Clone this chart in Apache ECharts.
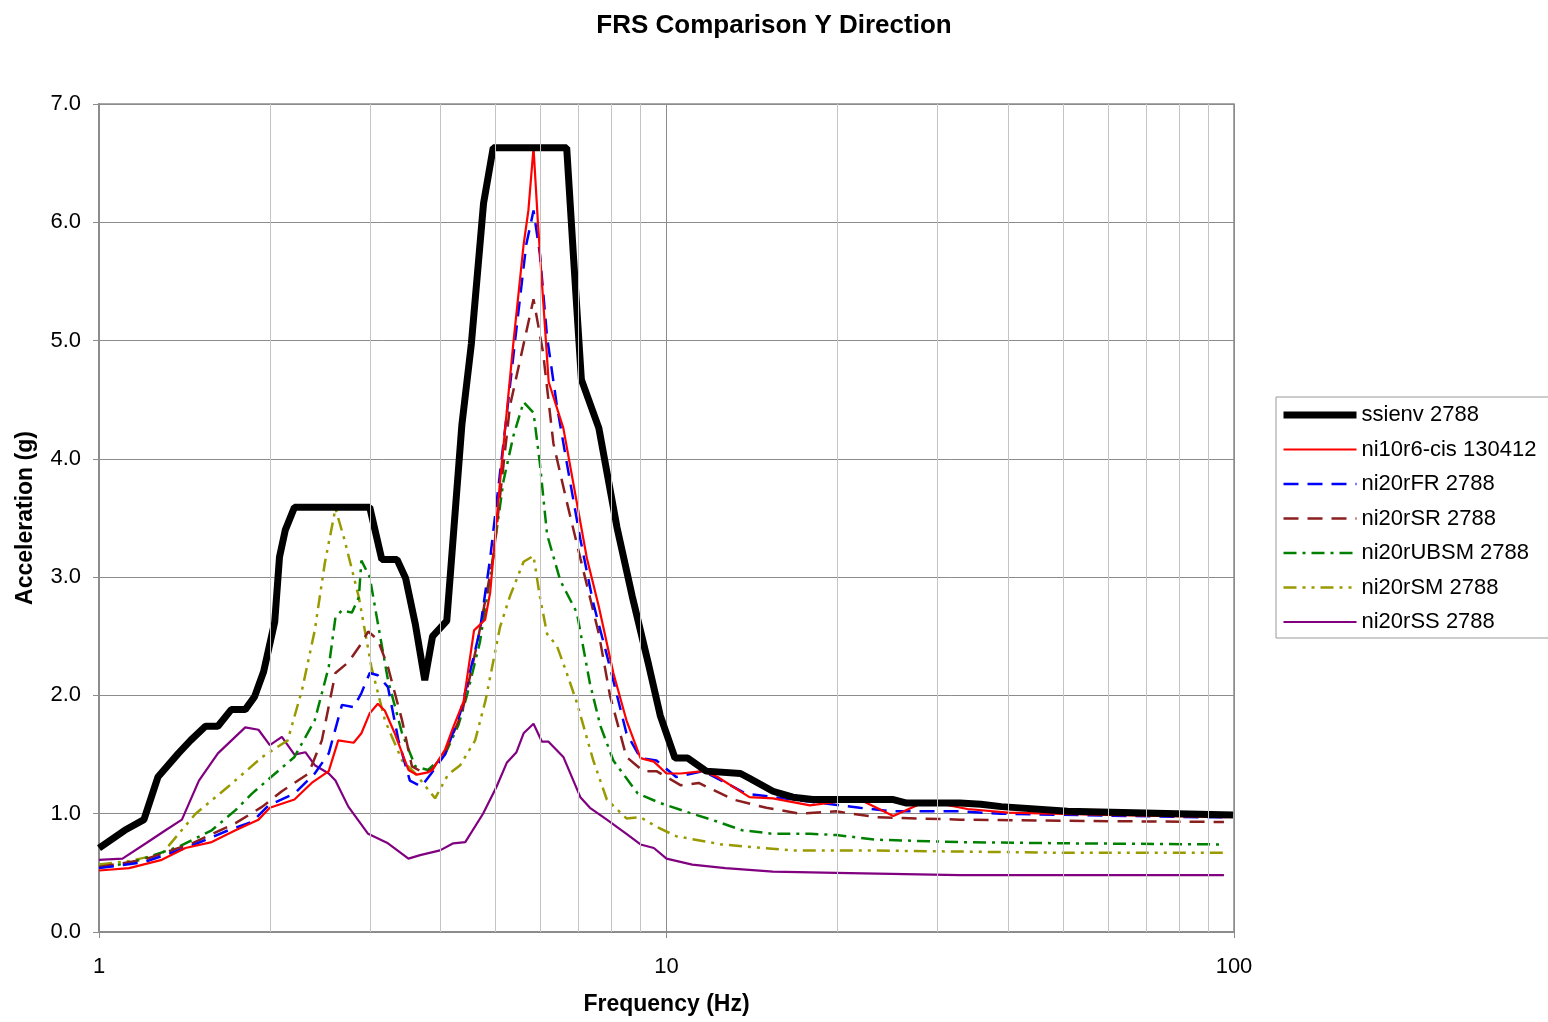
<!DOCTYPE html>
<html lang="en">
<head>
    <meta charset="UTF-8">
    <title>FRS Comparison Y Direction</title>
    <script type="text/javascript" src="https://cdn.jsdelivr.net/npm/echarts@6/dist/echarts.min.js"></script>
</head>
<body style="height: 1022px; margin: 0; width: 1548px">
<div id="container" style="height: 100%; width: 100%"></div>
<script type="text/javascript">
    // frequencies (Hz) and accelerations (g), one pair of arrays per curve
    var ssienvF = [1.0, 1.11, 1.20, 1.27, 1.38, 1.45, 1.54, 1.62, 1.71, 1.81, 1.88, 1.95, 2.04, 2.08, 2.13, 2.21, 3.0, 3.15, 3.35, 3.47, 3.61, 3.75, 3.87, 4.1, 4.36, 4.53, 4.76, 4.95, 6.67, 6.85, 7.08, 7.6, 8.18, 8.7, 9.3, 9.75, 10.35, 10.9, 11.75, 13.5, 14.0, 15.4, 16.7, 18.1, 19.9, 25.1, 26.5, 32.9, 35.8, 38.9, 50.9, 99.6];
    var ssienvA = [0.71, 0.86, 0.95, 1.31, 1.51, 1.62, 1.74, 1.74, 1.88, 1.88, 1.99, 2.20, 2.62, 3.17, 3.40, 3.59, 3.59, 3.15, 3.15, 2.99, 2.60, 2.13, 2.50, 2.63, 4.29, 4.97, 6.16, 6.63, 6.63, 5.74, 4.67, 4.26, 3.42, 2.84, 2.26, 1.83, 1.47, 1.47, 1.36, 1.34, 1.30, 1.19, 1.14, 1.12, 1.12, 1.12, 1.09, 1.09, 1.08, 1.06, 1.02, 0.99];

    var cisF = [1.0, 1.13, 1.29, 1.42, 1.58, 1.74, 1.91, 2.0, 2.21, 2.37, 2.54, 2.64, 2.81, 2.9, 3.0, 3.1, 3.19, 3.32, 3.51, 3.63, 3.8, 3.87, 4.07, 4.2, 4.39, 4.58, 4.79, 4.89, 5.09, 5.37, 5.6, 5.71, 5.83, 5.94, 6.2, 6.58, 7.24, 7.6, 8.06, 8.5, 9.0, 9.5, 10.0, 10.6, 11.6, 12.3, 14.0, 15.4, 17.9, 19.9, 21.9, 25.1, 27.9, 30.7, 33.9, 40, 60, 97];
    var cisA = [0.52, 0.54, 0.61, 0.71, 0.76, 0.86, 0.95, 1.05, 1.12, 1.26, 1.36, 1.62, 1.60, 1.68, 1.85, 1.93, 1.87, 1.68, 1.37, 1.33, 1.35, 1.37, 1.54, 1.72, 1.95, 2.55, 2.64, 2.87, 3.81, 4.97, 5.81, 6.10, 6.63, 5.97, 4.65, 4.26, 3.16, 2.75, 2.19, 1.79, 1.47, 1.44, 1.34, 1.34, 1.36, 1.31, 1.14, 1.13, 1.07, 1.10, 1.12, 0.98, 1.08, 1.08, 1.04, 1.01, 0.99, 0.97];

    var frF = [1.0, 1.2, 1.44, 1.69, 1.86, 1.99, 2.21, 2.40, 2.54, 2.68, 2.81, 2.90, 3.0, 3.10, 3.23, 3.37, 3.53, 3.70, 3.85, 4.07, 4.33, 4.69, 4.89, 5.16, 5.44, 5.66, 5.83, 5.98, 6.16, 6.41, 6.67, 7.05, 7.43, 7.95, 8.5, 9.0, 9.6, 10.4, 11.6, 12.5, 13.8, 16.7, 18.1, 21.9, 25.1, 32.9, 38.9, 88, 96];
    var frA = [0.54, 0.59, 0.72, 0.86, 0.93, 1.07, 1.17, 1.34, 1.51, 1.92, 1.90, 2.02, 2.19, 2.17, 2.07, 1.62, 1.28, 1.23, 1.34, 1.50, 1.85, 2.55, 3.16, 4.13, 5.10, 5.81, 6.10, 5.74, 5.03, 4.45, 3.97, 3.32, 2.78, 2.24, 1.68, 1.47, 1.45, 1.31, 1.36, 1.28, 1.17, 1.12, 1.10, 1.05, 1.02, 1.02, 1.00, 0.97, 0.97];

    var srF = [1.0, 1.2, 1.46, 1.74, 1.94, 2.10, 2.34, 2.47, 2.61, 2.75, 2.90, 2.98, 3.10, 3.23, 3.42, 3.56, 3.75, 3.87, 4.1, 4.36, 4.63, 4.95, 5.3, 5.6, 5.83, 6.06, 6.32, 6.67, 7.05, 7.6, 7.95, 8.5, 9.1, 9.6, 10.6, 11.4, 13.1, 15.0, 17.2, 19.9, 23.5, 32.9, 50, 96];
    var srA = [0.55, 0.61, 0.75, 0.92, 1.06, 1.19, 1.34, 1.62, 2.19, 2.28, 2.44, 2.54, 2.47, 2.24, 1.79, 1.40, 1.34, 1.38, 1.55, 1.85, 2.42, 3.16, 4.45, 4.97, 5.35, 4.90, 4.13, 3.64, 3.16, 2.52, 2.00, 1.48, 1.36, 1.36, 1.24, 1.26, 1.12, 1.05, 1.00, 1.02, 0.97, 0.95, 0.94, 0.93];

    var ubsmF = [1.0, 1.13, 1.38, 1.58, 1.74, 1.86, 2.01, 2.21, 2.40, 2.54, 2.61, 2.68, 2.79, 2.87, 2.90, 3.0, 3.10, 3.23, 3.42, 3.61, 3.80, 4.07, 4.3, 4.45, 4.69, 4.89, 5.16, 5.37, 5.6, 5.83, 5.98, 6.16, 6.5, 6.95, 7.33, 7.65, 8.06, 8.9, 9.75, 11.1, 12.0, 13.6, 15.4, 17.9, 19.9, 23.5, 32.9, 50, 96];
    var ubsmA = [0.55, 0.58, 0.72, 0.86, 1.03, 1.17, 1.31, 1.48, 1.79, 2.24, 2.66, 2.72, 2.70, 2.83, 3.14, 3.00, 2.61, 2.13, 1.68, 1.40, 1.37, 1.50, 1.75, 2.00, 2.45, 3.00, 3.81, 4.19, 4.48, 4.39, 3.97, 3.36, 2.97, 2.70, 2.10, 1.74, 1.45, 1.17, 1.09, 1.00, 0.95, 0.86, 0.83, 0.83, 0.82, 0.78, 0.76, 0.75, 0.74];

    var smF = [1.0, 1.13, 1.29, 1.48, 1.69, 1.94, 2.15, 2.28, 2.40, 2.50, 2.61, 2.71, 2.87, 3.02, 3.19, 3.42, 3.61, 3.91, 4.12, 4.33, 4.6, 4.8, 5.09, 5.3, 5.6, 5.83, 5.98, 6.16, 6.41, 6.67, 6.95, 7.43, 7.85, 8.5, 9.0, 9.6, 10.4, 12.5, 16.7, 21.9, 32.9, 50, 96];
    var smA = [0.57, 0.60, 0.66, 1.00, 1.23, 1.48, 1.62, 2.05, 2.55, 3.12, 3.58, 3.31, 2.83, 2.24, 1.79, 1.45, 1.34, 1.13, 1.33, 1.41, 1.62, 1.96, 2.58, 2.84, 3.13, 3.18, 2.84, 2.52, 2.42, 2.19, 1.94, 1.45, 1.12, 0.96, 0.97, 0.89, 0.81, 0.74, 0.69, 0.69, 0.68, 0.67, 0.67];

    var ssF = [1.0, 1.10, 1.21, 1.31, 1.40, 1.50, 1.62, 1.81, 1.91, 2.0, 2.10, 2.21, 2.31, 2.40, 2.54, 2.61, 2.75, 2.98, 3.23, 3.51, 3.68, 3.99, 4.21, 4.42, 4.75, 5.02, 5.23, 5.44, 5.6, 5.83, 6.03, 6.19, 6.58, 7.05, 7.33, 7.85, 8.5, 9.0, 9.5, 10.0, 11.1, 12.7, 15.4, 19.9, 32.9, 96];
    var ssA = [0.61, 0.62, 0.75, 0.86, 0.95, 1.28, 1.51, 1.73, 1.71, 1.58, 1.65, 1.50, 1.52, 1.41, 1.34, 1.28, 1.06, 0.83, 0.75, 0.62, 0.65, 0.69, 0.75, 0.76, 1.00, 1.23, 1.43, 1.52, 1.68, 1.76, 1.61, 1.61, 1.48, 1.14, 1.05, 0.95, 0.83, 0.74, 0.71, 0.62, 0.57, 0.54, 0.51, 0.50, 0.48, 0.48];

    var seriesNames = ['ssienv 2788', 'ni10r6-cis 130412', 'ni20rFR 2788', 'ni20rSR 2788', 'ni20rUBSM 2788', 'ni20rSM 2788', 'ni20rSS 2788'];
    var minorGridX = [2, 3, 4, 5, 6, 7, 8, 9, 20, 30, 40, 50, 60, 70, 80, 90];

    function pairs(f, a) {
        var out = [];
        for (var i = 0; i < f.length; i++) out.push([f[i], a[i]]);
        return out;
    }

    function curve(name, f, a, color, width, dash) {
        return {
            name: name,
            type: 'line',
            data: pairs(f, a),
            symbol: 'none',
            smooth: false,
            animation: false,
            lineStyle: { color: color, width: width, type: dash },
            itemStyle: { color: color }
        };
    }

    var dom = document.getElementById("container");
    var myChart = echarts.init(dom);

    var font = 'Liberation Sans, Arial, sans-serif';

    var option = {
        backgroundColor: '#fff',
        title: {
            text: 'FRS Comparison Y Direction',
            left: 'center',
            top: 8,
            textStyle: { fontFamily: font, fontSize: 26, fontWeight: 'bold', color: '#000' }
        },
        grid: {
            left: 99, right: 314, top: 104, bottom: 90,
            show: true, borderColor: '#8c8c8c', borderWidth: 1.5
        },
        legend: {
            data: seriesNames,
            orient: 'vertical',
            left: 1276, top: 397,
            padding: [7, 40, 5, 4],
            itemWidth: 73, itemHeight: 14, itemGap: 12.5,
            borderColor: '#999', borderWidth: 1,
            itemStyle: { opacity: 0 },
            lineStyle: { width: 'inherit' },
            textStyle: { fontFamily: font, fontSize: 22, lineHeight: 22, color: '#000' }
        },
        xAxis: {
            type: 'log',
            logBase: 10,
            min: 1, max: 100,
            name: 'Frequency (Hz)',
            nameLocation: 'middle',
            nameGap: 61,
            nameTextStyle: { fontFamily: font, fontSize: 23, fontWeight: 'bold', color: '#000' },
            axisLine: { lineStyle: { color: '#8c8c8c', width: 2 } },
            axisTick: { show: true, length: 6, lineStyle: { color: '#8c8c8c' } },
            axisLabel: { fontFamily: font, fontSize: 22, color: '#000', margin: 24 },
            splitLine: { show: true, lineStyle: { color: '#8c8c8c', width: 1 } }
        },
        yAxis: {
            type: 'value',
            min: 0, max: 7, interval: 1,
            name: 'Acceleration (g)',
            nameLocation: 'middle',
            nameGap: 62,
            nameTextStyle: { fontFamily: font, fontSize: 23, fontWeight: 'bold', color: '#000' },
            axisLine: { show: true, lineStyle: { color: '#8c8c8c', width: 2 } },
            axisTick: { show: true, length: 6, lineStyle: { color: '#8c8c8c' } },
            axisLabel: {
                fontFamily: font, fontSize: 22, color: '#000', margin: 18,
                formatter: function (v) { return v.toFixed(1); }
            },
            splitLine: { show: true, lineStyle: { color: '#8c8c8c', width: 1 } }
        },
        series: [
            {
                name: 'grid',
                type: 'line',
                data: [],
                z: 0,
                silent: true,
                animation: false,
                markLine: {
                    silent: true,
                    symbol: 'none',
                    label: { show: false },
                    animation: false,
                    lineStyle: { color: '#c4c4c4', width: 1, type: 'solid' },
                    data: minorGridX.map(function (v) { return { xAxis: v }; })
                }
            },
            curve(seriesNames[6], ssF, ssA, '#800080', 2.2, 'solid'),
            curve(seriesNames[5], smF, smA, '#999900', 2.5, [13, 6, 3, 6, 3, 6]),
            curve(seriesNames[4], ubsmF, ubsmA, '#008000', 2.5, [13, 6, 3, 6]),
            curve(seriesNames[3], srF, srA, '#8b1e1e', 2.5, [15, 9]),
            curve(seriesNames[2], frF, frA, '#0000ff', 2.5, [15, 9]),
            curve(seriesNames[1], cisF, cisA, '#ff0000', 2.2, 'solid'),
            curve(seriesNames[0], ssienvF, ssienvA, '#000000', 7, 'solid')
        ]
    };

    if (option && typeof option === "object") {
        myChart.setOption(option, true);
    }
</script>
</body>
</html>
